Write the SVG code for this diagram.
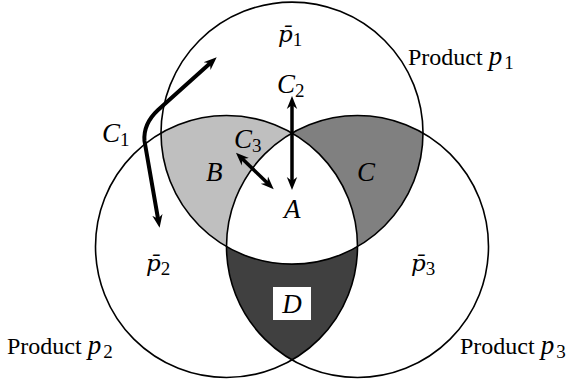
<svg xmlns="http://www.w3.org/2000/svg" width="577" height="383" viewBox="0 0 577 383">
<style>
.lbl{font-family:"Liberation Serif","Times New Roman",serif;font-size:24px;fill:#000}
.m{font-size:27px;font-style:italic}
.pb{font-family:"DejaVu Serif","Liberation Serif",serif;font-size:23px;font-style:italic}
.sub{font-size:19px;font-style:normal}
.circ{fill:none;stroke:#000;stroke-width:1.6}
.reg{stroke:none}
.arr{fill:none;stroke:#000;stroke-width:3.5;stroke-linejoin:round;marker-start:url(#ah);marker-end:url(#ah)}
</style>
<defs>
<marker id="ah" markerUnits="userSpaceOnUse" viewBox="0 -7 14 14" refX="6" refY="0" markerWidth="14" markerHeight="14" orient="auto-start-reverse">
<path d="M13,0 L0,-5.2 L4,0 L0,5.2 Z" fill="#000"/>
</marker>
</defs>
<rect width="577" height="383" fill="#fff"/>
<g id="region-B">
<path class="reg" fill="#bfbfbf" d="M161,133.1 A131,131 0 0 1 292,133.1 A131,131 0 0 0 226.5,246.5 A131,131 0 0 1 161,133.1 Z"/>
<text class="lbl m" x="206" y="181">B</text>
</g>
<g id="region-C">
<path class="reg" fill="#808080" d="M292,133.1 A131,131 0 0 1 423,133.1 A131,131 0 0 1 357.5,246.5 A131,131 0 0 0 292,133.1 Z"/>
<text class="lbl m" x="357" y="181">C</text>
</g>
<g id="region-D">
<path class="reg" fill="#404040" d="M226.5,246.5 A131,131 0 0 0 357.5,246.5 A131,131 0 0 1 292,359.9 A131,131 0 0 1 226.5,246.5 Z"/>
<rect x="273" y="287" width="38" height="33" fill="#fff"/>
<text class="lbl m" x="292" y="313" text-anchor="middle">D</text>
</g>
<g id="region-A">
<text class="lbl m" x="284" y="218">A</text>
</g>
<g id="set-p1">
<circle class="circ" cx="292" cy="133.1" r="131"/>
<text class="lbl" x="278" y="42"><tspan class="pb">p&#x304;</tspan><tspan class="sub" dy="4">1</tspan></text>
<text class="lbl" x="408" y="65">Product <tspan class="m">p</tspan><tspan class="sub" dx="2" dy="4">1</tspan></text>
</g>
<g id="set-p2">
<circle class="circ" cx="226.5" cy="246.5" r="131"/>
<text class="lbl" x="146" y="271"><tspan class="pb">p&#x304;</tspan><tspan class="sub" dy="4">2</tspan></text>
<text class="lbl" x="7" y="354">Product <tspan class="m">p</tspan><tspan class="sub" dx="2" dy="4">2</tspan></text>
</g>
<g id="set-p3">
<circle class="circ" cx="357.5" cy="246.5" r="131"/>
<text class="lbl" x="411" y="271"><tspan class="pb">p&#x304;</tspan><tspan class="sub" dy="4">3</tspan></text>
<text class="lbl" x="460" y="354">Product <tspan class="m">p</tspan><tspan class="sub" dx="2" dy="4">3</tspan></text>
</g>
<g id="connectors">
<path id="c1" class="arr" style="stroke-width:4" d="M211.5,62 L158,110 Q143,124 144.5,141 L158.4,220.8"/>
<text class="lbl" x="102" y="142"><tspan class="m">C</tspan><tspan class="sub" dy="4">1</tspan></text>
<path id="c2" class="arr" d="M292,103 L292,183"/>
<text class="lbl" x="277" y="93"><tspan class="m">C</tspan><tspan class="sub" dy="4">2</tspan></text>
<path id="c3" class="arr" d="M241,157.5 L268.7,184.3"/>
<text class="lbl" x="234" y="148"><tspan class="m">C</tspan><tspan class="sub" dy="4">3</tspan></text>
</g>
</svg>
